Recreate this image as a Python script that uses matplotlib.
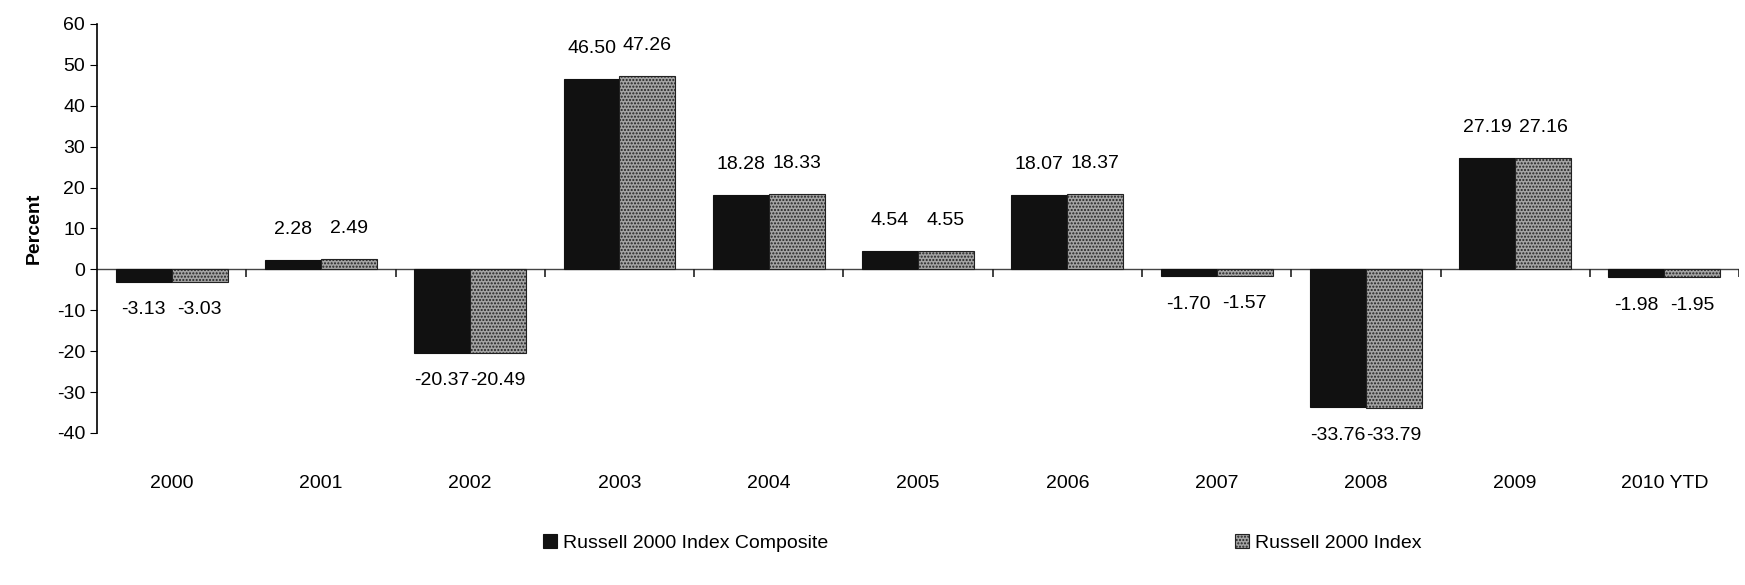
import matplotlib
matplotlib.use('Agg')
import matplotlib.pyplot as plt
import numpy as np

plt.rcParams['font.family'] = ['Liberation Sans Narrow', 'Liberation Sans', 'DejaVu Sans']
plt.rcParams['axes.unicode_minus'] = False
plt.rcParams['hatch.color'] = '#505050'

# 数据
years = ['2000', '2001', '2002', '2003', '2004', '2005', '2006', '2007', '2008', '2009', '2010 YTD']
composite = [-3.13, 2.28, -20.37, 46.50, 18.28, 4.54, 18.07, -1.70, -33.76, 27.19, -1.98]
russell = [-3.03, 2.49, -20.49, 47.26, 18.33, 4.55, 18.37, -1.57, -33.79, 27.16, -1.95]
yticks = [-40, -30, -20, -10, 0, 10, 20, 30, 40, 50, 60]

x = np.arange(len(years))
w = 0.375

fig = plt.figure(figsize=(17.45, 5.85), dpi=100)
ax = fig.add_axes([0.0556, 0.26, 0.941, 0.699])

b1 = ax.bar(x - w / 2, composite, w, color='#111111', edgecolor='#111111', lw=0.8,
            label='Russell 2000 Index Composite', zorder=3)
b2 = ax.bar(x + w / 2, russell, w, color='#a4a4a4', edgecolor='#222222', lw=0.8,
            hatch='.....', label='Russell 2000 Index', zorder=3)

# 数值标签
for bars, vals in ((b1, composite), (b2, russell)):
    for b, v in zip(bars, vals):
        off = 22 if v >= 0 else -20
        ax.annotate('%.2f' % v, (b.get_x() + b.get_width() / 2, v),
                    xytext=(0, off), textcoords='offset points',
                    ha='center', va='center', fontsize=14)

# 零线和分组刻度
ax.axhline(0, color='#444444', lw=1, zorder=2)
ax.vlines(x + 0.5, -1.8, 0, color='#222222', lw=1.2)

ax.set_xlim(-0.5, len(years) - 0.5)
ax.set_ylim(-40, 60)
ax.set_yticks(yticks)
ax.set_xticks(x, years)
ax.tick_params(axis='x', length=0, pad=30, labelsize=14)
ax.tick_params(axis='y', direction='out', length=5, labelsize=14)

ax.spines['top'].set_visible(False)
ax.spines['right'].set_visible(False)
ax.spines['bottom'].set_visible(False)
ax.spines['left'].set_linewidth(1.2)

ax.set_ylabel('Percent', fontsize=14, fontweight='bold', labelpad=10)

# 图例（两个分开放）
for h, x0 in ((b1, 543 / 1745), (b2, 1235 / 1745)):
    fig.legend(handles=[h], loc='center left', bbox_to_anchor=(x0, 0.072),
               frameon=False, fontsize=14, handlelength=0.7, handleheight=0.7,
               handletextpad=0.35, borderpad=0, borderaxespad=0)

fig.savefig('out.png', dpi=100)
